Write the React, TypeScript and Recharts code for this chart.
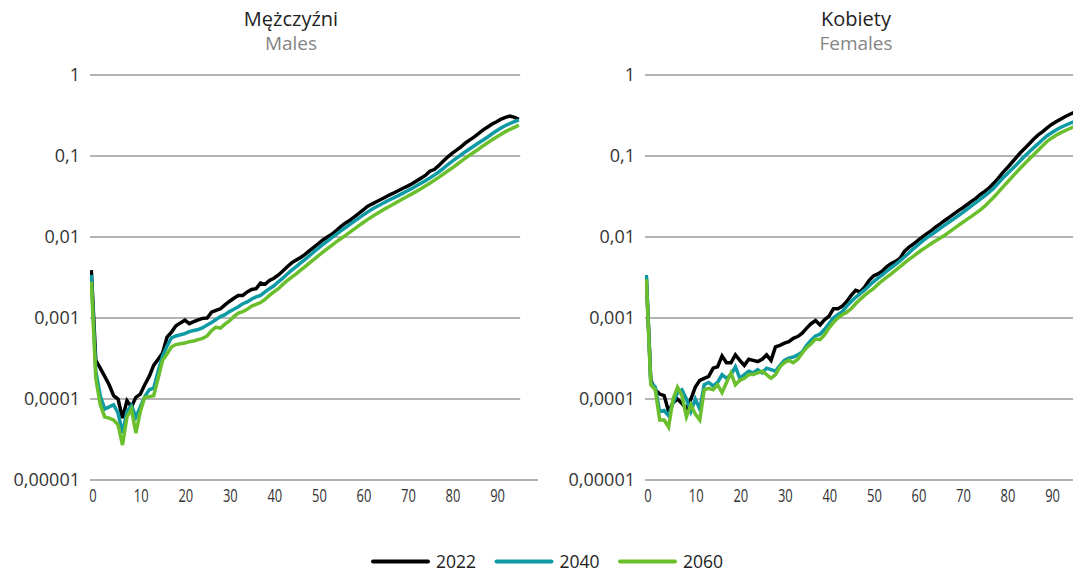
import React from 'react';
import { LineChart, Line, XAxis, YAxis, ReferenceLine } from 'recharts';

const AGES: number[] = Array.from({ length: 97 }, (_, i) => i);

const X_TICKS = [0, 10, 20, 30, 40, 50, 60, 70, 80, 90];
const Y_TICKS = [0.00001, 0.0001, 0.001, 0.01, 0.1, 1];
const Y_TICK_LABELS = ['0,00001', '0,0001', '0,001', '0,01', '0,1', '1'];

const MALE_2022 = [
  0.0039, 0.0003, 0.00024, 0.00019, 0.00015, 0.00011, 0.0001, 0.000058, 0.000095, 0.00008,
  0.000105, 0.000115, 0.00015, 0.00019, 0.00026, 0.00031, 0.00037, 0.00058, 0.00067, 0.0008,
  0.00087, 0.00094, 0.00085, 0.0009, 0.00095, 0.00099, 0.001, 0.00118, 0.00124, 0.0013,
  0.00145, 0.0016, 0.00175, 0.0019, 0.0019, 0.0021, 0.00225, 0.0023, 0.0027, 0.0026,
  0.0029, 0.0031, 0.0034, 0.0038, 0.0043, 0.0048, 0.0052, 0.0056, 0.0061, 0.0068,
  0.0075, 0.0083, 0.0092, 0.01, 0.0108, 0.012, 0.0134, 0.0148, 0.016, 0.0176,
  0.0194, 0.0215, 0.0238, 0.0255, 0.0272, 0.029, 0.031, 0.0332, 0.0352, 0.0375,
  0.04, 0.0425, 0.0455, 0.049, 0.053, 0.0575, 0.065, 0.068, 0.076, 0.086,
  0.097, 0.108, 0.118, 0.13, 0.145, 0.158, 0.172, 0.19, 0.21, 0.228,
  0.248, 0.265, 0.285, 0.3, 0.312, 0.3, 0.284,
];
const MALE_2040 = [
  0.0034, 0.00022, 0.00011, 0.000075, 0.00008, 0.000085, 0.000067, 0.000038, 0.00007, 0.000083,
  0.00006, 0.00008, 0.000107, 0.00013, 0.000136, 0.00022, 0.00034, 0.00045, 0.00057, 0.0006,
  0.00062, 0.00064, 0.00068, 0.0007, 0.00072, 0.00076, 0.00082, 0.00088, 0.00096, 0.00104,
  0.0011, 0.0012, 0.00128, 0.00138, 0.0015, 0.00158, 0.00172, 0.00182, 0.0019, 0.0021,
  0.0023, 0.0025, 0.0028, 0.0031, 0.0035, 0.0039, 0.0043, 0.0048, 0.0053, 0.0059,
  0.0066, 0.0073, 0.0081, 0.0089, 0.0098, 0.0108, 0.0119, 0.013, 0.0142, 0.0156,
  0.017, 0.0186, 0.0203, 0.022, 0.0236, 0.0252, 0.027, 0.0288, 0.0306, 0.0326,
  0.0348, 0.0372, 0.0398, 0.0428, 0.046, 0.0496, 0.0535, 0.058, 0.0635, 0.07,
  0.078, 0.086, 0.094, 0.103, 0.113, 0.123, 0.134, 0.146, 0.158, 0.172,
  0.188, 0.205, 0.222, 0.238, 0.252, 0.266, 0.28,
];
const MALE_2060 = [
  0.0028, 0.00018, 0.000085, 0.00006, 0.000058, 0.000055, 0.000048, 0.000027, 0.00006, 0.000075,
  0.000038, 0.00007, 0.000105, 0.000107, 0.00011, 0.00018, 0.0003, 0.00036, 0.00044, 0.00047,
  0.00048, 0.00049, 0.00051, 0.00052, 0.00054, 0.00056, 0.0006, 0.0007, 0.00077, 0.00075,
  0.00084, 0.00092, 0.00104, 0.00115, 0.0012, 0.00128, 0.0014, 0.00147, 0.00155, 0.0017,
  0.0019, 0.0021, 0.0023, 0.0026, 0.0029, 0.0032, 0.0035, 0.0039, 0.0043, 0.0048,
  0.0053, 0.0059, 0.0065, 0.0072, 0.0079, 0.0087, 0.0095, 0.0104, 0.0114, 0.0125,
  0.0137, 0.015, 0.0164, 0.0178, 0.0193, 0.0208, 0.0224, 0.024, 0.0258, 0.0277,
  0.0297, 0.0318, 0.0341, 0.0366, 0.0394, 0.0425, 0.046, 0.05, 0.0545, 0.0595,
  0.065, 0.071, 0.078, 0.086, 0.094, 0.103, 0.112, 0.122, 0.134, 0.146,
  0.159, 0.172, 0.186, 0.2, 0.213, 0.226, 0.24,
];

const FEMALE_2022 = [
  0.0032, 0.00017, 0.00013, 0.000115, 0.00011, 0.00007, 0.00009, 0.0001, 0.000088, 0.000075,
  0.0001, 0.00014, 0.00017, 0.00018, 0.00019, 0.00024, 0.00025, 0.00034, 0.00028, 0.00028,
  0.00035, 0.0003, 0.00026, 0.00031, 0.0003, 0.00029, 0.00031, 0.00035, 0.0003, 0.00044,
  0.00046, 0.00049, 0.00051, 0.00056, 0.00059, 0.00065, 0.00075, 0.00085, 0.00093, 0.00082,
  0.00095, 0.00105, 0.0013, 0.0013, 0.0014, 0.0016, 0.0019, 0.0022, 0.0021, 0.0024,
  0.0029, 0.0033, 0.0035, 0.0038, 0.0043, 0.0047, 0.005, 0.0055, 0.0067, 0.0075,
  0.0082, 0.0091, 0.01, 0.011, 0.012, 0.0133, 0.0145, 0.016, 0.0175, 0.0192,
  0.021, 0.0228, 0.025, 0.0275, 0.03, 0.0335, 0.0365, 0.0405, 0.046, 0.053,
  0.062, 0.071, 0.082, 0.095, 0.11, 0.125, 0.142, 0.162, 0.182, 0.2,
  0.222, 0.245, 0.265, 0.285, 0.305, 0.325, 0.345,
];
const FEMALE_2040 = [
  0.0034, 0.00016, 0.00014, 0.00007, 0.000072, 0.000062, 0.00009, 0.00012, 0.00013, 0.0001,
  0.00007, 0.0001, 0.000075, 0.00015, 0.00016, 0.000145, 0.00016, 0.0002, 0.00018, 0.0002,
  0.00025, 0.00018, 0.0002, 0.00022, 0.00021, 0.00023, 0.00021, 0.00024, 0.00023, 0.00022,
  0.00026, 0.0003, 0.00032, 0.00033, 0.00035, 0.00038, 0.00046, 0.00053, 0.0006, 0.00063,
  0.00072, 0.00085, 0.001, 0.0011, 0.0012, 0.0014, 0.0016, 0.0018, 0.002, 0.0022,
  0.0025, 0.0028, 0.0031, 0.0034, 0.0038, 0.0042, 0.0046, 0.0051, 0.0057, 0.0064,
  0.0072, 0.008, 0.0089, 0.0098, 0.0107, 0.0117, 0.0128, 0.014, 0.0153, 0.0167,
  0.0183, 0.02, 0.022, 0.0242, 0.0266, 0.0293, 0.0323, 0.0357, 0.04, 0.046,
  0.053, 0.06, 0.068, 0.077, 0.088, 0.1, 0.113, 0.127, 0.142, 0.16,
  0.178, 0.194, 0.21, 0.225, 0.238, 0.252, 0.265,
];
const FEMALE_2060 = [
  0.003, 0.00015, 0.00013, 0.000055, 0.000055, 0.000045, 0.0001, 0.00014, 0.00011, 0.00006,
  0.000085, 0.000065, 0.000055, 0.00013, 0.000135, 0.00013, 0.00015, 0.00012, 0.00016, 0.00021,
  0.00015, 0.00017, 0.00018, 0.0002, 0.0002, 0.00021, 0.00022, 0.0002, 0.00018, 0.0002,
  0.00025, 0.00028, 0.0003, 0.00028, 0.00031, 0.00037, 0.00043, 0.00048, 0.00055, 0.00054,
  0.00062, 0.00075, 0.00088, 0.001, 0.0011, 0.00118, 0.0013, 0.0015, 0.0017, 0.0019,
  0.0021, 0.0023, 0.0026, 0.0029, 0.0032, 0.0035, 0.0039, 0.0043, 0.0048, 0.0053,
  0.0058, 0.0064, 0.007, 0.0076, 0.0083, 0.009, 0.0097, 0.0105, 0.0115, 0.0126,
  0.0138, 0.0151, 0.0165, 0.018, 0.0197, 0.0216, 0.024, 0.0272, 0.031, 0.0355,
  0.041, 0.047, 0.054, 0.062, 0.071, 0.081, 0.092, 0.104, 0.118, 0.134,
  0.152, 0.166, 0.18, 0.193, 0.205, 0.217, 0.23,
];

const SERIES = [
  { key: 'y2022', name: '2022', color: '#000000' },
  { key: 'y2040', name: '2040', color: '#0e9aa5' },
  { key: 'y2060', name: '2060', color: '#6bbf2c' },
];

const maleData = AGES.map((age, i) => ({ age, y2022: MALE_2022[i], y2040: MALE_2040[i], y2060: MALE_2060[i] }));
const femaleData = AGES.map((age, i) => ({ age, y2022: FEMALE_2022[i], y2040: FEMALE_2040[i], y2060: FEMALE_2060[i] }));

const FONT = "'Open Sans', 'Noto Sans', sans-serif";
const GRID = '#9a9a9a';

const XTick = (props: any) => {
  const { x, y, payload } = props;
  return (
    <text
      transform={`translate(${x - 2},${y + 14}) scale(0.72,1)`}
      fontSize={18}
      fontFamily={FONT}
      fill="#333"
    >
      {payload.value}
    </text>
  );
};

const fmtY = (v: number) => {
  const i = Y_TICKS.indexOf(v);
  return i >= 0 ? Y_TICK_LABELS[i] : String(v);
};

const Panel = ({ data, left, gridEnd }: { data: any[]; left: number; gridEnd: number }) => (
  <div style={{ position: 'absolute', left, top: 0 }}>
    <LineChart width={560} height={520} data={data} margin={{ top: 75, right: 22, bottom: 10, left: 30 }}>
      <XAxis
        dataKey="age"
        type="number"
        domain={[-0.3, 100.3]}
        ticks={X_TICKS}
        interval={0}
        allowDataOverflow
        axisLine={{ stroke: GRID, strokeWidth: 1.3 }}
        tickLine={false}
        tick={<XTick />}
        height={30}
      />
      <YAxis
        type="number"
        scale="log"
        domain={[0.00001, 1]}
        ticks={Y_TICKS}
        interval={0}
        allowDataOverflow
        axisLine={false}
        tickLine={false}
        tickMargin={4}
        width={60}
        tickFormatter={fmtY}
        tick={{ fontSize: 18, fill: '#333', fontFamily: FONT }}
      />
      {Y_TICKS.slice(1).map((v) => (
        <ReferenceLine
          key={v}
          segment={[{ x: -0.3, y: v }, { x: gridEnd, y: v }]}
          stroke={GRID}
          strokeWidth={1.3}
          ifOverflow="visible"
        />
      ))}
      {SERIES.map((s) => (
        <Line
          key={s.key}
          type="linear"
          dataKey={s.key}
          name={s.name}
          stroke={s.color}
          strokeWidth={3.5}
          dot={false}
          activeDot={false}
          isAnimationActive={false}
        />
      ))}
    </LineChart>
  </div>
);

export default function App() {
  return (
    <div
      style={{
        position: 'fixed',
        left: 0,
        top: 0,
        width: 1073,
        height: 572,
        overflow: 'hidden',
        background: '#fff',
        fontFamily: FONT,
      }}
    >
      <Panel data={maleData} left={0} gridEnd={96.3} />
      <Panel data={femaleData} left={555} gridEnd={100.3} />
      <svg
        width={1073}
        height={572}
        style={{ position: 'absolute', left: 0, top: 0, pointerEvents: 'none' }}
      >
        <text x={291} y={26} textAnchor="middle" fontSize={20} fontFamily={FONT} fill="#222">Mężczyźni</text>
        <text x={291} y={50} textAnchor="middle" fontSize={19} fontFamily={FONT} fill="#858585">Males</text>
        <text x={856} y={26} textAnchor="middle" fontSize={20} fontFamily={FONT} fill="#222">Kobiety</text>
        <text x={856} y={50} textAnchor="middle" fontSize={19} fontFamily={FONT} fill="#858585">Females</text>
        {SERIES.map((s, i) => {
          const x0 = 373 + i * 123.5;
          return (
            <g key={s.key}>
              <line x1={x0} x2={x0 + 55} y1={561.5} y2={561.5} stroke={s.color} strokeWidth={4} strokeLinecap="round" />
              <text x={x0 + 63} y={567.5} fontSize={17.5} fontFamily={FONT} fill="#222">{s.name}</text>
            </g>
          );
        })}
      </svg>
    </div>
  );
}
